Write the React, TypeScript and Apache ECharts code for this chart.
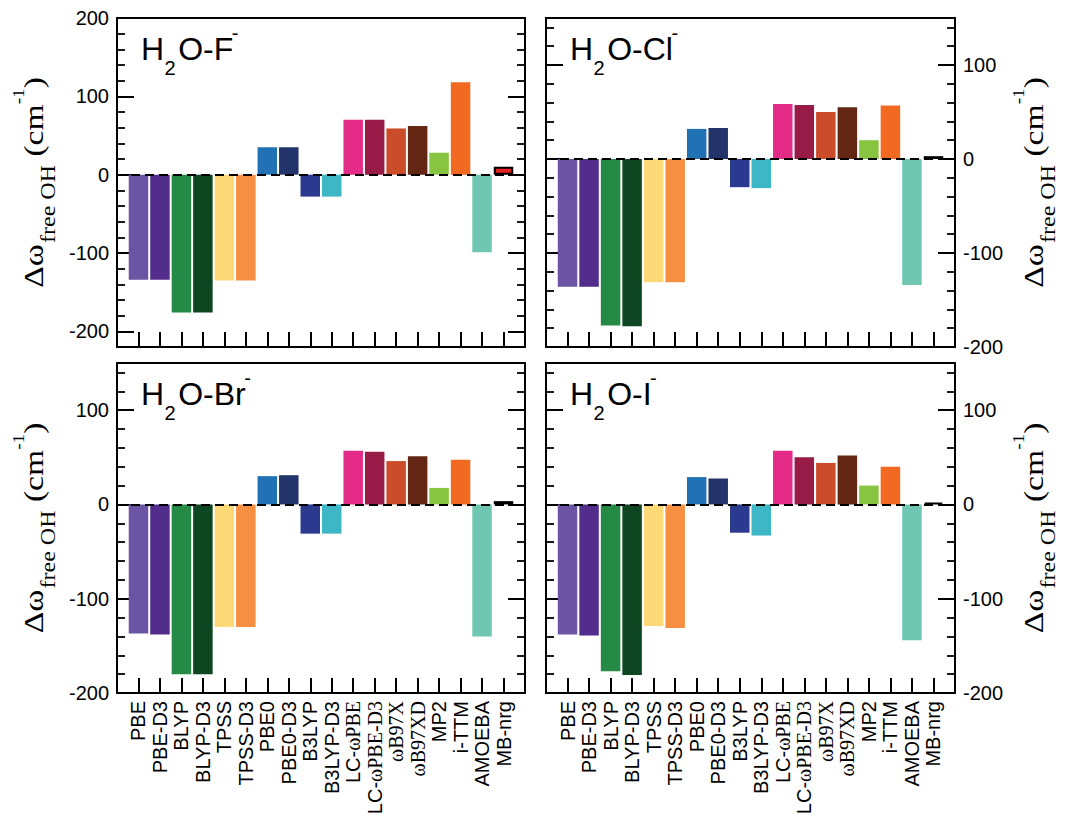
import React, { useEffect, useRef } from 'react';
import * as echarts from 'echarts';

const methods = ['PBE', 'PBE-D3', 'BLYP', 'BLYP-D3', 'TPSS', 'TPSS-D3', 'PBE0', 'PBE0-D3', 'B3LYP', 'B3LYP-D3', 'LC-ωPBE', 'LC-ωPBE-D3', 'ωB97X', 'ωB97XD', 'MP2', 'i-TTM', 'AMOEBA', 'MB-nrg'];
const methodColors = ['#6b54a3', '#532d8c', '#248a45', '#0d4621', '#fdd978', '#f68f42', '#2171b5', '#22346a', '#2b398f', '#3db6c5', '#e42b87', '#971b46', '#ca4c29', '#622613', '#87c540', '#f26a22', '#6fc7b1', '#e8201f'];

const shiftF = [-134, -134, -176, -176, -135, -135, 35, 35, -28, -28, 70, 70, 59, 62, 28, 118, -99, 10];
const shiftCl = [-136, -136, -177, -178, -131, -131, 32, 33, -30, -31, 58.5, 57.5, 50, 55, 20, 57, -134, 3];
const shiftBr = [-137, -138, -180, -180, -130, -130, 30, 31, -31, -31, 57, 56, 46, 51, 17.5, 47.5, -140, 3.5];
const shiftI = [-138, -139, -177, -181, -129, -131, 29, 27.5, -30, -33, 57, 50, 44, 52, 20, 40, -144, 2];

const ionNames = ['F', 'Cl', 'Br', 'I'];
const yRangeTop = [-220, 200];
const yRangeOther = [-200, 150];

function labelFor(name: string) {
  const i = name.indexOf('ω');
  if (i < 0) return name;
  const pre = name.slice(0, i);
  return (pre ? `{s|${pre}}` : '') + `{g|${name.slice(i)}}`;
}

const canvas = typeof document !== 'undefined' ? document.createElement('canvas') : null;
const ctx = canvas ? canvas.getContext('2d') : null;
function tw(text: string, font: string) {
  if (!ctx) return text.length * 10;
  ctx.font = font;
  return ctx.measureText(text).width;
}

export default function App() {
  const ref = useRef<HTMLDivElement>(null);
  useEffect(() => {
    if (!ref.current) return;
    const chart = echarts.init(ref.current, undefined, { renderer: 'svg' });

    const panels = [
      { left: 117, top: 18, width: 408, height: 329, vals: shiftF, range: yRangeTop, labelSide: 'left', xLabels: false },
      { left: 546, top: 18, width: 409, height: 329, vals: shiftCl, range: yRangeOther, labelSide: 'right', xLabels: false },
      { left: 117, top: 363, width: 408, height: 330, vals: shiftBr, range: yRangeOther, labelSide: 'left', xLabels: true },
      { left: 546, top: 363, width: 409, height: 330, vals: shiftI, range: yRangeOther, labelSide: 'right', xLabels: true },
    ];

    const grids: any[] = [];
    const xAxes: any[] = [];
    const yAxes: any[] = [];
    const series: any[] = [];
    const graphics: any[] = [];

    const yLabel = (show: boolean) => ({
      show,
      fontSize: 20,
      fontFamily: 'Liberation Sans',
      color: '#000',
      margin: 8,
      formatter: (v: number) => (Math.abs(v % 100) < 1e-6 ? String(v) : ''),
    });

    const minorAxis = (gi: number, side: string, range: number[]) => ({
      type: 'value', gridIndex: gi, position: side, min: range[0], max: range[1], interval: 20,
      axisLine: { show: false, onZero: false }, splitLine: { show: false },
      axisTick: { show: true, inside: true, length: 8, lineStyle: { color: '#000', width: 1.8 } },
      axisLabel: { show: false },
    });
    const majorAxis = (gi: number, side: string, range: number[], showLabel: boolean) => ({
      type: 'value', gridIndex: gi, position: side, min: range[0], max: range[1], interval: 100,
      axisLine: { show: false, onZero: false }, splitLine: { show: false },
      axisTick: { show: true, inside: true, length: 17, lineStyle: { color: '#000', width: 2 } },
      axisLabel: yLabel(showLabel),
    });

    panels.forEach((p, pi) => {
      grids.push({ left: p.left, top: p.top, width: p.width, height: p.height, show: true, borderColor: '#000', borderWidth: 2, backgroundColor: 'transparent', outerBoundsMode: 'none' });
      xAxes.push({
        type: 'value', gridIndex: pi, min: 0, max: 19, interval: 1, position: 'bottom',
        axisLine: { show: false, onZero: false }, splitLine: { show: false },
        axisTick: { show: true, inside: true, length: 15, lineStyle: { color: '#000', width: 2 } },
        axisLabel: {
          show: p.xLabels, rotate: 90, margin: 8, fontSize: 20, fontFamily: 'Liberation Sans', color: '#000',
          formatter: (v: number) => {
            const r = Math.round(v);
            if (Math.abs(v - r) > 1e-6 || r < 1 || r > methods.length) return '';
            return labelFor(methods[r - 1]);
          },
          rich: {
            s: { fontSize: 20, fontFamily: 'Liberation Sans', color: '#000' },
            g: { fontSize: 20, fontFamily: 'Liberation Serif', color: '#000' },
          },
        },
      });
    });

    // P1 major tick grid (spans -200..200 of the -220..200 data range)
    const p0 = panels[0];
    const majorH = p0.height * 400 / 420;
    grids.push({ left: p0.left, top: p0.top, width: p0.width, height: majorH, show: false, outerBoundsMode: 'none' });
    xAxes.push({ type: 'value', gridIndex: 4, min: 0, max: 1, show: false });

    yAxes.push(minorAxis(0, 'left', yRangeTop));
    yAxes.push(minorAxis(0, 'right', yRangeTop));
    yAxes.push(majorAxis(4, 'left', [-200, 200], true));
    yAxes.push(majorAxis(4, 'right', [-200, 200], false));
    const dataYIndex = [0];
    for (let pi = 1; pi < 4; pi++) {
      const base = yAxes.length;
      dataYIndex.push(base);
      const p = panels[pi];
      yAxes.push(minorAxis(pi, 'left', p.range));
      yAxes.push(minorAxis(pi, 'right', p.range));
      yAxes.push(majorAxis(pi, 'left', p.range, p.labelSide === 'left'));
      yAxes.push(majorAxis(pi, 'right', p.range, p.labelSide === 'right'));
    }

    panels.forEach((p, pi) => {
      series.push({
        type: 'bar',
        xAxisIndex: pi,
        yAxisIndex: dataYIndex[pi],
        barWidth: 19.5,
        data: methods.map((m, i) => ({
          value: [i + 1, p.vals[i]],
          itemStyle: m === 'MB-nrg'
            ? { color: methodColors[i], borderColor: '#000', borderWidth: 2 }
            : { color: methodColors[i] },
        })),
        markLine: {
          silent: true,
          symbol: ['none', 'none'],
          label: { show: false },
          lineStyle: { color: '#000', type: [9, 5], width: 2 },
          data: [{ yAxis: 0 }],
        },
      });
    });

    // Panel titles H2O-X-
    const fMain = 32, fSub = 20, fSup = 20;
    const sans = (f: number) => `${f}px "Liberation Sans"`;
    panels.forEach((p, pi) => {
      const x0 = p.left + 24;
      const b = p.top + 42.5;
      const hW = tw('H', sans(fMain));
      const subX = x0 + hW + 0.4;
      const restX = subX + tw('2', sans(fSub)) + 2.5;
      const rest = 'O-' + ionNames[pi];
      const supX = restX + tw(rest, sans(fMain)) - 1.5;
      const mk = (text: string, x: number, base: number, f: number) => ({
        type: 'text', x, y: base - 0.35 * f,
        style: { text, font: sans(f), fill: '#000', textAlign: 'left', textVerticalAlign: 'middle' },
      });
      graphics.push(mk('H', x0, b, fMain));
      graphics.push(mk('2', subX, b + 14.5, fSub));
      graphics.push(mk(rest, restX, b, fMain));
      graphics.push(mk('-', supX, b - 21, fSup));
    });

    // Y titles
    const serif = (f: number) => `${f}px "Liberation Serif"`;
    const F1 = 28, F2 = 20, F3 = 16;
    const segs = [
      { t: 'Δω', f: F1, dy: 0 },
      { t: 'free OH', f: F2, dy: 12 },
      { t: ' (cm', f: F1, dy: 0 },
      { t: '-1', f: F3, dy: -19 },
      { t: ')', f: F1, dy: 0 },
    ];
    const stretch = 1.2;
    const makeYTitle = (bx: number, cy: number) => {
      let pos = 0;
      const children: any[] = [];
      segs.forEach((s, si) => {
        children.push({
          type: 'text', x: pos, y: s.dy - 0.34 * s.f,
          style: { text: s.t, font: serif(s.f), fill: '#000', textAlign: 'left', textVerticalAlign: 'middle' },
        });
        pos += tw(s.t, serif(s.f)) + (si === 0 ? 1 : 0);
      });
      const L = pos * stretch;
      return { type: 'group', x: bx, y: cy + L / 2, rotation: Math.PI / 2, scaleX: stretch, scaleY: 1, children };
    };
    graphics.push(makeYTitle(43, panels[0].top + panels[0].height / 2));
    graphics.push(makeYTitle(43, panels[2].top + panels[2].height / 2));
    graphics.push(makeYTitle(1043, panels[1].top + panels[1].height / 2));
    graphics.push(makeYTitle(1043, panels[3].top + panels[3].height / 2));

    chart.setOption({
      animation: false,
      backgroundColor: '#fff',
      grid: grids,
      xAxis: xAxes,
      yAxis: yAxes,
      series,
      graphic: { elements: graphics },
    });

    return () => chart.dispose();
  }, []);

  return <div ref={ref} style={{ position: 'fixed', left: 0, top: 0, width: 1065, height: 818 }} />;
}
